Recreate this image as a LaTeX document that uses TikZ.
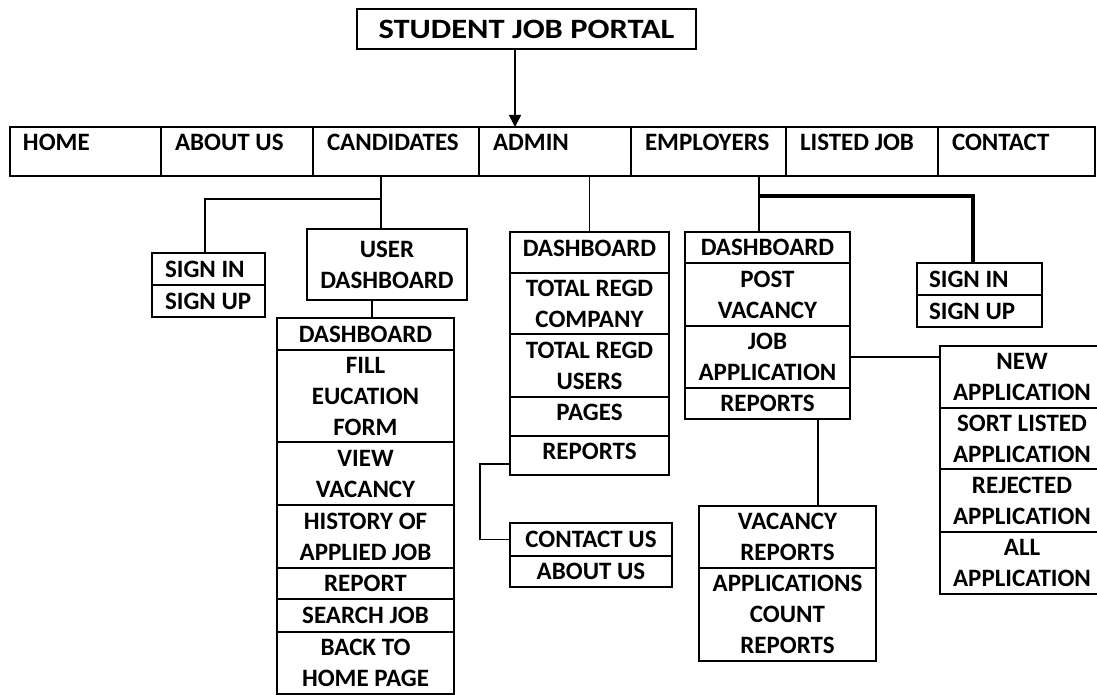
\documentclass[tikz,border=0pt]{standalone}
\usepackage{fontspec}
\setmainfont{Carlito}
\usetikzlibrary{arrows.meta}
\tikzset{
  cell/.style={draw, line width=1.2pt, inner sep=0pt, outer sep=0pt, align=center,
    font=\bfseries\fontsize{25}{31}\selectfont},
  lbl/.style={inner sep=0pt, outer sep=0pt, font=\bfseries\fontsize{25}{31}\selectfont},
  raisedtext/.style={text depth=8pt},
  conn/.style={line width=1.8pt},
  heavyconn/.style={line width=4.5pt},
  arrowconn/.style={line width=1.7pt, -{Triangle[length=12pt,width=12pt]}},
}
% #1 options, #2 name, #3 x1, #4 y1, #5 x2, #6 y2, #7 text
\newcommand\mkcell[7][]{%
  \node[cell, minimum width={(#5-#3)*1pt}, minimum height={(#6-#4)*1pt}, #1]
    (#2) at ({(#3+#5)/2},{(#4+#6)/2}) {#7};}
\begin{document}
\begin{tikzpicture}[x=1pt,y=-1pt]
\useasboundingbox (0,0) rectangle (1097,695);

% title
\mkcell[font=\bfseries\fontsize{28}{34}\selectfont]{title}{357}{9}{696}{49}{\scalebox{1.16}[1]{STUDENT JOB PORTAL}}

% navigation bar
\mkcell{home}{10}{127}{161}{176}{}
\mkcell{about}{161}{127}{313}{176}{}
\mkcell{cand}{313}{127}{479}{176}{}
\mkcell{admin}{479}{127}{631}{176}{}
\mkcell{emp}{631}{127}{786}{176}{}
\mkcell{listed}{786}{127}{938}{176}{}
\mkcell{contactnav}{938}{127}{1095}{176}{}
\node[lbl, anchor=base west] (thome) at (23,151) {HOME};
\node[lbl, anchor=base west] (tabout) at (175,151) {ABOUT US};
\node[lbl, anchor=base west] (tcand) at (327,151) {CANDIDATES};
\node[lbl, anchor=base west] (tadmin) at (493,151) {ADMIN};
\node[lbl, anchor=base west] (temp) at (645,151) {EMPLOYERS};
\node[lbl, anchor=base west] (tlisted) at (800,151) {LISTED JOB};
\node[lbl, anchor=base west] (tcontact) at (952,151) {CONTACT};

% arrow
\coordinate (ax) at (515,0);
\draw[arrowconn] (title.south -| ax) -- (home.north -| ax);

% candidates
\mkcell{csin}{152}{253}{265}{285}{}
\mkcell{csup}{152}{285}{265}{317}{}
\node[lbl, anchor=west] (tcsin) at ([xshift=13pt]csin.west) {SIGN IN};
\node[lbl, anchor=west] (tcsup) at ([xshift=13pt]csup.west) {SIGN UP};
\mkcell{udash}{307}{229}{467}{300}{USER\\DASHBOARD}
\mkcell{cdash}{277}{318}{454}{350}{DASHBOARD}
\mkcell{cfill}{277}{350}{454}{442}{FILL\\EUCATION\\FORM}
\mkcell{cview}{277}{442}{454}{505}{VIEW\\VACANCY}
\mkcell{chist}{277}{505}{454}{568}{HISTORY OF\\APPLIED JOB}
\mkcell{crep}{277}{568}{454}{599}{REPORT}
\mkcell{csearch}{277}{599}{454}{632}{SEARCH JOB}
\mkcell{cback}{277}{632}{454}{694}{BACK TO\\HOME PAGE}

\coordinate (cj) at (381,199);
\coordinate (cl) at (205,199);
\coordinate (ux) at (372,0);
\draw[conn] (cand.south -| cj) -- (udash.north -| cj);
\draw[conn] (cj) -- (cl) -- (cl |- csin.north);
\draw[conn] (udash.south -| ux) -- (cdash.north -| ux);

% admin
\mkcell[raisedtext]{adash}{510}{232}{669}{273}{DASHBOARD}
\mkcell{acomp}{510}{273}{669}{334}{TOTAL REGD\\COMPANY}
\mkcell{ausers}{510}{334}{669}{397}{TOTAL REGD\\USERS}
\mkcell[raisedtext]{apages}{510}{397}{669}{436}{PAGES}
\mkcell[raisedtext]{arep}{510}{436}{669}{475}{REPORTS}
\mkcell{acontact}{510}{523}{672}{556}{CONTACT US}
\mkcell{aabout}{510}{556}{672}{587}{ABOUT US}

\draw[conn] (admin.south -| adash.north) -- (adash.north);
\coordinate (aj) at (480,464);
\draw[conn] (arep.west |- aj) -- (aj) -- (aj |- acontact.west) -- (acontact.west);

% employers
\mkcell{edash}{685}{232}{850}{263}{DASHBOARD}
\mkcell{epost}{685}{263}{850}{326}{POST\\VACANCY}
\mkcell{ejob}{685}{326}{850}{388}{JOB\\APPLICATION}
\mkcell{erep}{685}{388}{850}{419}{REPORTS}
\mkcell{vrep}{699}{506}{876}{568}{VACANCY\\REPORTS}
\mkcell{vcount}{699}{568}{876}{661}{APPLICATIONS\\COUNT\\REPORTS}
\mkcell{esin}{917}{263}{1042}{295}{}
\mkcell{esup}{917}{295}{1042}{327}{}
\node[lbl, anchor=west] (tesin) at ([xshift=12pt]esin.west) {SIGN IN};
\node[lbl, anchor=west] (tesup) at ([xshift=12pt]esup.west) {SIGN UP};
\mkcell{newapp}{940}{346}{1104}{408}{NEW\\APPLICATION}
\mkcell{sortapp}{940}{408}{1104}{469}{SORT LISTED\\APPLICATION}
\mkcell{rejapp}{940}{469}{1104}{532}{REJECTED\\APPLICATION}
\mkcell{allapp}{940}{532}{1104}{594}{ALL\\APPLICATION}

\coordinate (ej) at (759,196);
\coordinate (ek) at (973,196);
\coordinate (rx) at (818,0);
\draw[conn] (emp.south -| ej) -- (edash.north -| ej);
\draw[heavyconn] ([xshift=-0.9pt]ej) -- (ek) -- (ek |- esin.north);
\draw[conn] (ejob.east) -- (newapp.west |- ejob.east);
\draw[conn] (erep.south -| rx) -- (vrep.north -| rx);
\end{tikzpicture}
\end{document}
